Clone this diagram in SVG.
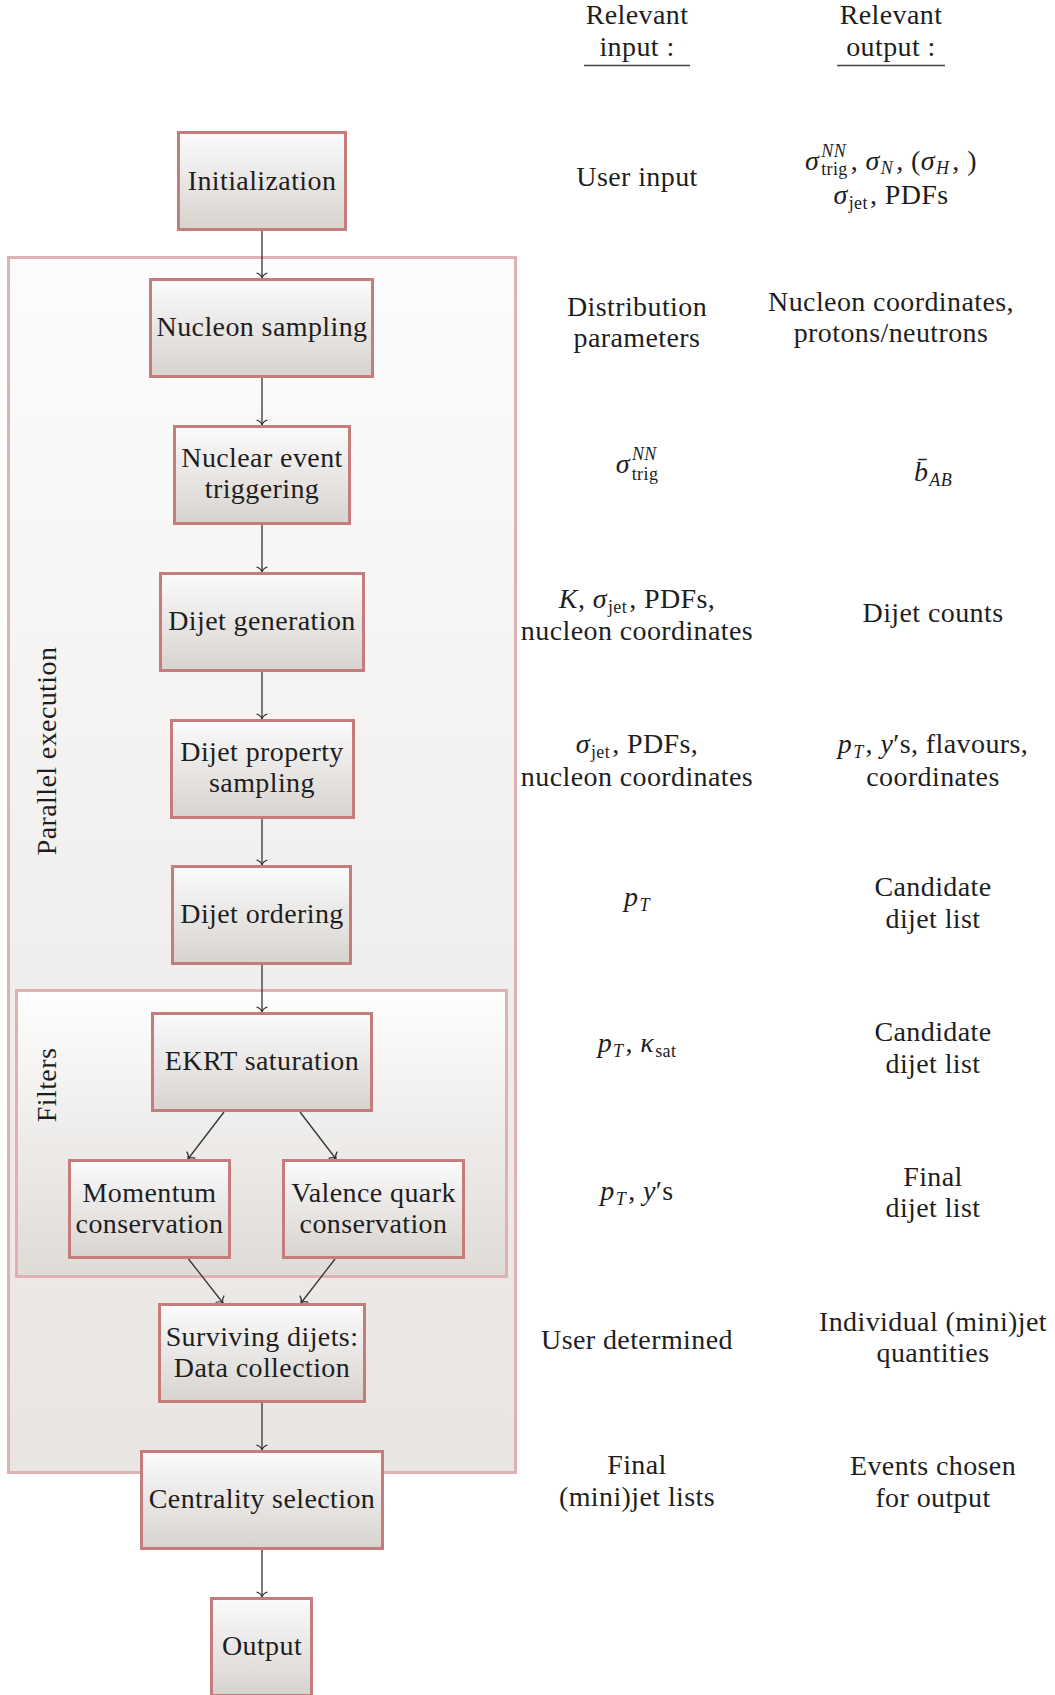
<svg xmlns="http://www.w3.org/2000/svg" width="1055" height="1695" viewBox="0 0 1055 1695">
<defs>
<linearGradient id="gNode" x1="0" y1="0" x2="0" y2="1">
<stop offset="0" stop-color="#fbfbfb"/>
<stop offset="1" stop-color="#d7d3cf"/>
</linearGradient>
<linearGradient id="gPar" x1="0" y1="0" x2="0" y2="1">
<stop offset="0" stop-color="#fcfcfc"/>
<stop offset="1" stop-color="#e8e5e2"/>
</linearGradient>
<linearGradient id="gFil" x1="0" y1="0" x2="0" y2="1">
<stop offset="0" stop-color="#fefefe"/>
<stop offset="1" stop-color="#dfdbd7"/>
</linearGradient>
<marker id="arr" markerUnits="userSpaceOnUse" viewBox="-7 -7 8 14" markerWidth="8" markerHeight="14" refX="0" refY="0" orient="auto">
<path d="M-5,-5.5 C-4,-2.2 -1.6,-0.5 0,0 C-1.6,0.5 -4,2.2 -5,5.5" fill="none" stroke="#333" stroke-width="1.2"/>
</marker>
<style>
.t{font-family:"Liberation Serif","Times New Roman",serif;font-size:28px;fill:#1e1e1e;letter-spacing:0.4px}
.c{text-anchor:middle}
.i{font-style:italic}
.s{font-size:18px}
.node rect{stroke:#c47c7c;stroke-width:3;fill:url(#gNode)}
.cont{stroke:#deb2b2;stroke-width:3}
#connectors line{stroke:#333;stroke-width:1.3;marker-end:url(#arr)}
.ul{stroke:#444;stroke-width:1.5}
</style>
</defs>
<rect width="1055" height="1695" fill="#ffffff"/>

<g id="parallel">
<rect class="cont" x="8.5" y="257.5" width="507" height="1215" fill="url(#gPar)"/>
<text class="t c" transform="translate(56,751) rotate(-90)">Parallel execution</text>
</g>
<g id="filters">
<rect class="cont" x="16.5" y="990.5" width="490" height="286" fill="url(#gFil)"/>
<text class="t c" transform="translate(56,1085) rotate(-90)">Filters</text>
</g>

<g id="connectors">
<line x1="262" y1="231" x2="262" y2="278"/>
<line x1="262" y1="378" x2="262" y2="425"/>
<line x1="262" y1="525" x2="262" y2="572"/>
<line x1="262" y1="672" x2="262" y2="719"/>
<line x1="262" y1="819" x2="262" y2="865"/>
<line x1="262" y1="965" x2="262" y2="1012"/>
<line x1="224" y1="1112" x2="188" y2="1159"/>
<line x1="300" y1="1112" x2="336" y2="1159"/>
<line x1="188.5" y1="1259" x2="223" y2="1303"/>
<line x1="335" y1="1259" x2="301" y2="1303"/>
<line x1="262" y1="1403" x2="262" y2="1450"/>
<line x1="262" y1="1550" x2="262" y2="1597"/>
</g>

<g id="initialization" class="node">
<rect x="178.5" y="132.5" width="167" height="97"/>
<text class="t c" x="262" y="190">Initialization</text>
</g>
<g id="nucleon-sampling" class="node">
<rect x="150.5" y="279.5" width="222" height="97"/>
<text class="t c" x="262" y="336">Nucleon sampling</text>
</g>
<g id="nuclear-event-triggering" class="node">
<rect x="174.5" y="426.5" width="175" height="97"/>
<text class="t c" x="262" y="467">Nuclear event</text>
<text class="t c" x="262" y="498">triggering</text>
</g>
<g id="dijet-generation" class="node">
<rect x="160.5" y="573.5" width="203" height="97"/>
<text class="t c" x="262" y="630">Dijet generation</text>
</g>
<g id="dijet-property-sampling" class="node">
<rect x="171.5" y="720.5" width="182" height="97"/>
<text class="t c" x="262" y="761">Dijet property</text>
<text class="t c" x="262" y="792">sampling</text>
</g>
<g id="dijet-ordering" class="node">
<rect x="172.5" y="866.5" width="178" height="97"/>
<text class="t c" x="262" y="923">Dijet ordering</text>
</g>
<g id="ekrt-saturation" class="node">
<rect x="152.5" y="1013.5" width="219" height="97"/>
<text class="t c" x="262" y="1070">EKRT saturation</text>
</g>
<g id="momentum-conservation" class="node">
<rect x="69.5" y="1160.5" width="160" height="97"/>
<text class="t c" x="149.5" y="1202">Momentum</text>
<text class="t c" x="149.5" y="1233">conservation</text>
</g>
<g id="valence-quark-conservation" class="node">
<rect x="283.5" y="1160.5" width="180" height="97"/>
<text class="t c" x="373.5" y="1202">Valence quark</text>
<text class="t c" x="373.5" y="1233">conservation</text>
</g>
<g id="surviving-dijets" class="node">
<rect x="159.5" y="1304.5" width="205" height="97"/>
<text class="t c" x="262" y="1346">Surviving dijets:</text>
<text class="t c" x="262" y="1377">Data collection</text>
</g>
<g id="centrality-selection" class="node">
<rect x="141.5" y="1451.5" width="241" height="97"/>
<text class="t c" x="262" y="1508">Centrality selection</text>
</g>
<g id="output" class="node">
<rect x="211.5" y="1598.5" width="100" height="97"/>
<text class="t c" x="262" y="1655">Output</text>
</g>

<g id="header-input">
<text class="t c" x="637" y="24">Relevant</text>
<text class="t c" x="637" y="56">input :</text>
<line class="ul" x1="584" y1="65.5" x2="690" y2="65.5"/>
</g>
<g id="header-output">
<text class="t c" x="891" y="24">Relevant</text>
<text class="t c" x="891" y="56">output :</text>
<line class="ul" x1="837" y1="65.5" x2="945" y2="65.5"/>
</g>

<g id="io-texts">
<text class="t c" x="637" y="186">User input</text>
<text class="t c" x="891" y="170"><tspan class="i">σ</tspan><tspan class="s i" dx="2" dy="-13">NN</tspan><tspan class="s" dx="-25" dy="18">trig</tspan><tspan dx="3" dy="-5">,  </tspan><tspan class="i">σ</tspan><tspan class="s i" dx="1" dy="4">N</tspan><tspan dx="3" dy="-4">,  (</tspan><tspan class="i">σ</tspan><tspan class="s i" dx="1" dy="4">H</tspan><tspan dx="3" dy="-4">, )</tspan></text>
<text class="t c" x="891" y="204"><tspan class="i">σ</tspan><tspan class="s" dx="1" dy="5">jet</tspan><tspan dx="2" dy="-5">,  PDFs</tspan></text>

<text class="t c" x="637" y="316">Distribution</text>
<text class="t c" x="637" y="347">parameters</text>
<text class="t c" x="891" y="311">Nucleon coordinates,</text>
<text class="t c" x="891" y="342">protons/neutrons</text>

<text class="t c" x="637" y="473"><tspan class="i">σ</tspan><tspan class="s i" dx="2" dy="-13">NN</tspan><tspan class="s" dx="-25" dy="20">trig</tspan></text>
<text class="t c" x="933" y="481"><tspan class="i">b̄</tspan><tspan class="s i" dx="1" dy="5">AB</tspan></text>

<text class="t c" x="637" y="608"><tspan class="i">K</tspan>,  <tspan class="i">σ</tspan><tspan class="s" dx="1" dy="5">jet</tspan><tspan dx="2" dy="-5">,  PDFs,</tspan></text>
<text class="t c" x="637" y="640">nucleon coordinates</text>
<text class="t c" x="933" y="622">Dijet counts</text>

<text class="t c" x="637" y="753"><tspan class="i">σ</tspan><tspan class="s" dx="1" dy="5">jet</tspan><tspan dx="2" dy="-5">,  PDFs,</tspan></text>
<text class="t c" x="637" y="786">nucleon coordinates</text>
<text class="t c" x="933" y="753"><tspan class="i">p</tspan><tspan class="s i" dx="1" dy="5">T</tspan><tspan dx="2" dy="-5">,  </tspan><tspan class="i">y</tspan>′s, flavours,</text>
<text class="t c" x="933" y="786">coordinates</text>

<text class="t c" x="637" y="906"><tspan class="i">p</tspan><tspan class="s i" dx="1" dy="5">T</tspan></text>
<text class="t c" x="933" y="896">Candidate</text>
<text class="t c" x="933" y="928">dijet list</text>

<text class="t c" x="637" y="1052"><tspan class="i">p</tspan><tspan class="s i" dx="1" dy="5">T</tspan><tspan dx="2" dy="-5">,  </tspan><tspan class="i">κ</tspan><tspan class="s" dx="1" dy="5">sat</tspan></text>
<text class="t c" x="933" y="1041">Candidate</text>
<text class="t c" x="933" y="1073">dijet list</text>

<text class="t c" x="637" y="1200"><tspan class="i">p</tspan><tspan class="s i" dx="1" dy="5">T</tspan><tspan dx="2" dy="-5">,  </tspan><tspan class="i">y</tspan>′s</text>
<text class="t c" x="933" y="1186">Final</text>
<text class="t c" x="933" y="1217">dijet list</text>

<text class="t c" x="637" y="1349">User determined</text>
<text class="t c" x="933" y="1331">Individual (mini)jet</text>
<text class="t c" x="933" y="1362">quantities</text>

<text class="t c" x="637" y="1474">Final</text>
<text class="t c" x="637" y="1506">(mini)jet lists</text>
<text class="t c" x="933" y="1475">Events chosen</text>
<text class="t c" x="933" y="1507">for output</text>
</g>
</svg>
